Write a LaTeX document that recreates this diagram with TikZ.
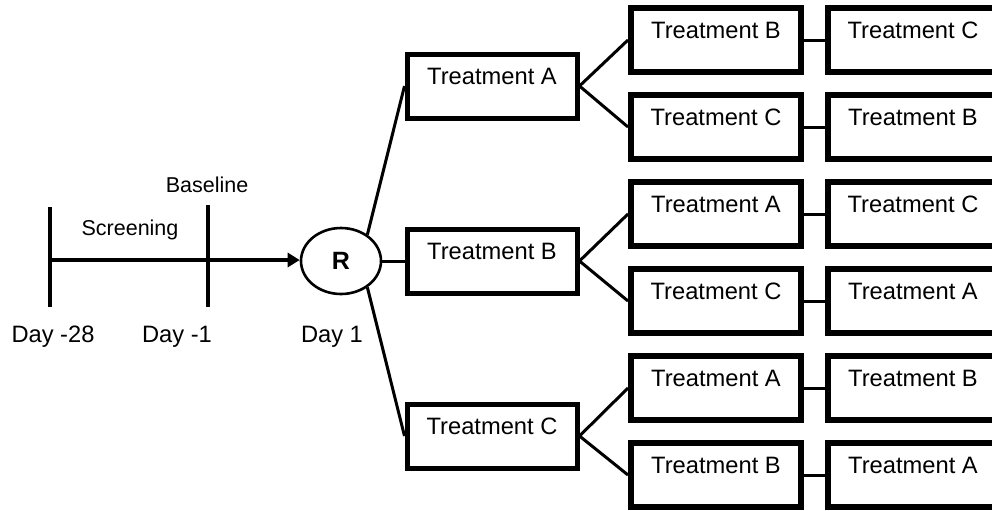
\documentclass[tikz,border=0pt]{standalone}
\usepackage{fontspec}
\setmainfont{Liberation Sans}
\usetikzlibrary{arrows.meta,shapes.geometric}

\tikzset{
  trt/.style={draw, rectangle, inner sep=0pt, minimum width=85pt, minimum height=32pt,
    text height=15.25pt, text depth=16.75pt, font=\fontsize{11.85}{14}\selectfont},
  arm/.style={trt, line width=2.5pt},
  per/.style={trt, line width=3pt},
  link/.style={line width=1.5pt},
  bar/.style={line width=2.4pt},
  daylbl/.style={font=\fontsize{11.85}{14}\selectfont},
  smalllbl/.style={font=\fontsize{10.75}{13}\selectfont},
}

\begin{document}
\begin{tikzpicture}[x=0.5pt, y=-0.5pt, >={Triangle[length=6pt,width=7pt]}]

\useasboundingbox (0,0) rectangle (992,510);
\clip (0,0) rectangle (992,510);

% Timeline
\coordinate (d28) at (50,260);
\coordinate (d1) at (208,260);
\draw[bar] (50,207) -- (50,307);
\draw[bar] (208,205) -- (208,307);

% Randomisation
\node[draw, ellipse, line width=1.3pt, minimum width=40pt, minimum height=33pt,
  inner sep=0pt, font=\fontsize{12.5}{14}\selectfont\bfseries] (R) at (341,261) {R};
\draw[->, bar] (d28) -- (R.west |- d28);

% Labels
\node[smalllbl] (scr) at (130,230) {Screening};
\node[smalllbl] (base) at (207,185) {Baseline};
\node[daylbl] (l28) at (53,337) {Day -28};
\node[daylbl] (l1) at (177,337) {Day -1};
\node[daylbl] (lR) at (332,337) {Day 1};

% First period
\node[arm] (A) at (492,86) {Treatment A};
\node[arm] (B) at (492,261) {Treatment B};
\node[arm] (C) at (492,436) {Treatment C};

\draw[link] (R.45) -- (A.west);
\draw[link] (R.east) -- (B.west);
\draw[link] (R.-45) -- (C.west);

% Second and third period
\foreach \n/\y/\p/\q in {1/40/B/C, 2/127/C/B, 3/214/A/C, 4/301/C/A, 5/388/A/B, 6/475/B/A} {
  \node[per] (p\n) at (716,\y) {Treatment \p};
  \node[per] (q\n) at (913,\y) {Treatment \q};
  \draw[link] (p\n) -- (q\n);
}

\draw[link] (A.east) -- (p1.west);
\draw[link] (A.east) -- (p2.west);
\draw[link] (B.east) -- (p3.west);
\draw[link] (B.east) -- (p4.west);
\draw[link] (C.east) -- (p5.west);
\draw[link] (C.east) -- (p6.west);

\end{tikzpicture}
\end{document}
